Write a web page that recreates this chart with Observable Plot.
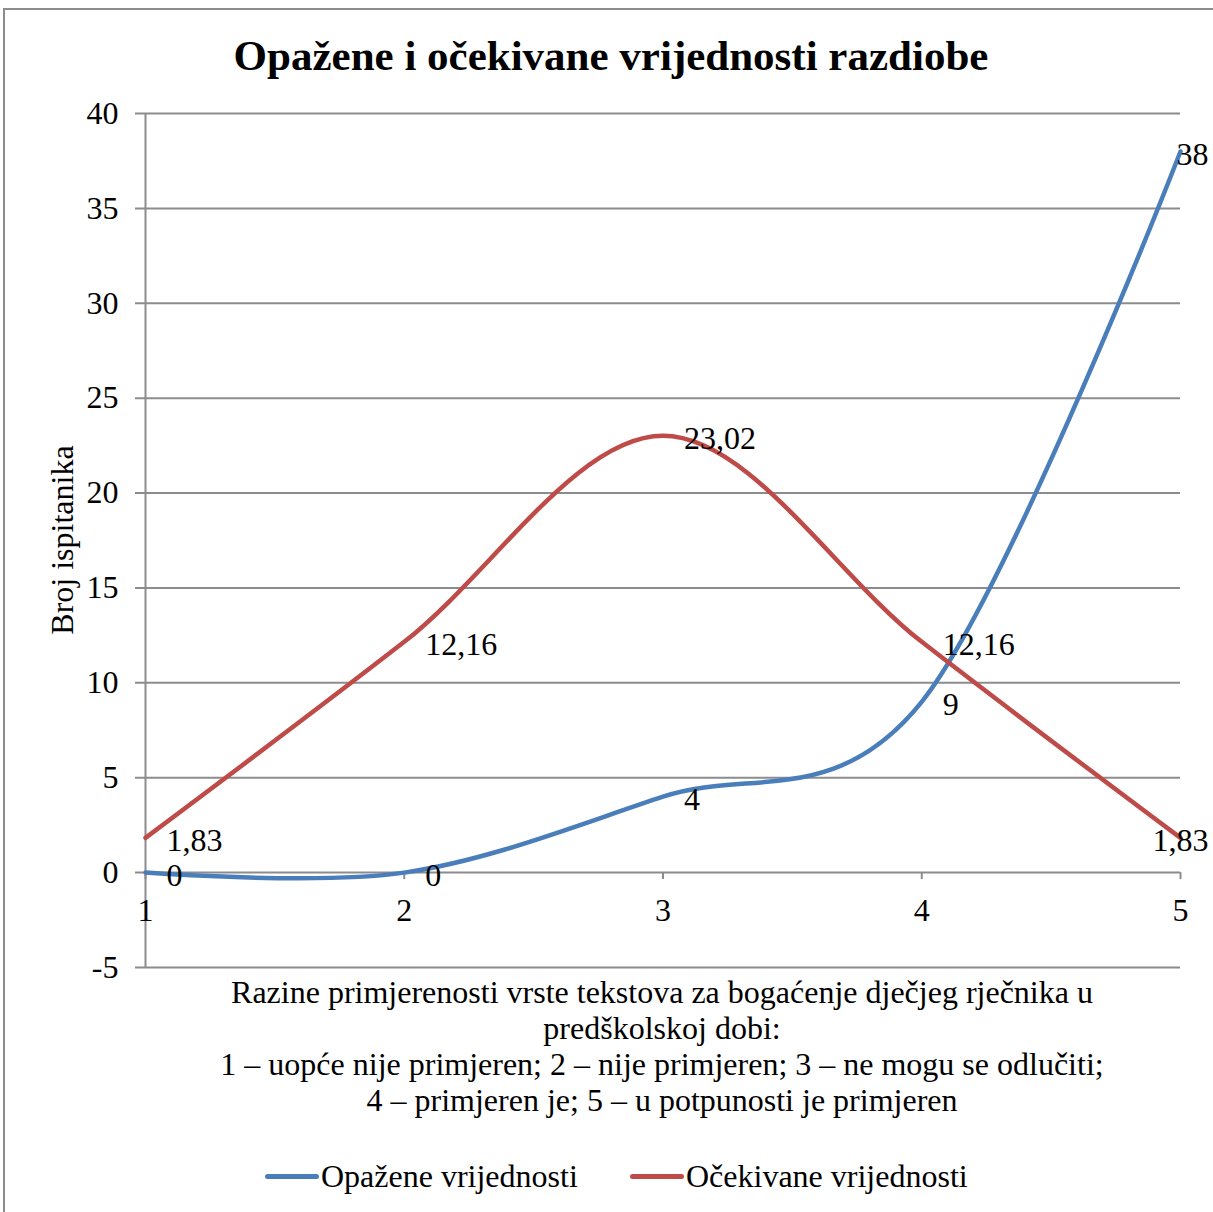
<!DOCTYPE html>
<html>
<head>
<meta charset="utf-8">
<script src="https://cdn.jsdelivr.net/npm/d3@7"></script>
<script src="https://cdn.jsdelivr.net/npm/@observablehq/plot@0.6"></script>
<style>
  html, body { margin: 0; padding: 0; background: #fff; }
  #wrap { position: relative; width: 1213px; height: 1212px; overflow: hidden; font-family: "Liberation Serif", "Times New Roman", serif; color: #000; }
  #frame { position: absolute; left: 3px; top: 8px; width: 1400px; height: 1400px; border: 2px solid #8c8c8c; box-sizing: border-box; }
  #title { position: absolute; left: 0; width: 1222px; top: 31px; text-align: center; font-weight: bold; font-size: 43px; line-height: 50px; }
  #chart { position: absolute; left: 0; top: 90px; }
  #ylabel { position: absolute; left: 62px; top: 540px; transform: translate(-50%, -50%) rotate(-90deg); font-size: 32px; white-space: nowrap; }
  #xlabel { position: absolute; left: 112px; width: 1100px; top: 974px; text-align: center; font-size: 32px; line-height: 36px; }
  #legend { position: absolute; top: 1158px; left: 0; width: 1213px; height: 36px; font-size: 32px; }
  .li { position: absolute; top: 0; display: flex; align-items: center; height: 36px; }
  .sw { width: 54px; height: 5px; border-radius: 3px; margin-right: 2px; }
</style>
</head>
<body>
<div id="wrap">
  <div id="frame"></div>
  <div id="title">Opažene i očekivane vrijednosti razdiobe</div>
  <div id="chart"></div>
  <div id="ylabel">Broj ispitanika</div>
  <div id="xlabel">Razine primjerenosti vrste tekstova za bogaćenje dječjeg rječnika u<br>predškolskoj dobi:<br>1 – uopće nije primjeren; 2 – nije primjeren; 3 – ne mogu se odlučiti;<br>4 – primjeren je; 5 – u potpunosti je primjeren</div>
  <div id="legend"></div>
</div>
<script>
const categories = [1, 2, 3, 4, 5];
const observed = [0, 0, 4, 9, 38];
const expected = [1.83, 12.16, 23.02, 12.16, 1.83];
const seriesNames = ["Opažene vrijednosti", "Očekivane vrijednosti"];
const seriesColors = ["#4a7ebb", "#be4b48"];
const yTicks = [-5, 0, 5, 10, 15, 20, 25, 30, 35, 40];

const fmt = v => String(v).replace(".", ",");
const obsData = categories.map((c, i) => ({x: c, y: observed[i], s: seriesNames[0]}));
const expData = categories.map((c, i) => ({x: c, y: expected[i], s: seriesNames[1]}));
const allData = obsData.concat(expData);
const last = categories[categories.length - 1];

const FONT = 32;
const plot = Plot.plot({
  width: 1213,
  height: 900,
  marginLeft: 145,
  marginRight: 33,
  marginTop: 23,
  marginBottom: 23,
  style: {fontFamily: "'Liberation Serif', 'Times New Roman', serif", fontSize: FONT + "px", color: "#000", background: "transparent", overflow: "visible"},
  x: {domain: [1, 5], axis: null},
  y: {domain: [-5, 40], axis: null},
  marks: [
    Plot.ruleY(yTicks, {stroke: "#8c8c8c", strokeWidth: 2, insetLeft: -10}),
    Plot.ruleX([categories[0]], {y1: -5, y2: 40, stroke: "#8c8c8c", strokeWidth: 2}),
    Plot.ruleX(categories, {x: d => d, y1: 0, y2: 0, insetBottom: -7, stroke: "#8c8c8c", strokeWidth: 2}),
    Plot.text(yTicks, {x: categories[0], y: d => d, text: d => String(d), textAnchor: "end", dx: -27, fontSize: FONT}),
    Plot.text(categories, {x: d => d, y: 0, text: d => String(d), dy: 38, fontSize: FONT}),
    Plot.line(obsData, {x: "x", y: "y", stroke: seriesColors[0], strokeWidth: 4.5, curve: "cardinal"}),
    Plot.line(expData, {x: "x", y: "y", stroke: seriesColors[1], strokeWidth: 4.5, curve: "cardinal"}),
    Plot.text(allData.filter(d => d.x !== last), {x: "x", y: "y", text: d => fmt(d.y), textAnchor: "start", dx: 21, dy: 3, fontSize: FONT}),
    Plot.text(allData.filter(d => d.x === last), {x: "x", y: "y", text: d => fmt(d.y), textAnchor: "end", dx: 28, dy: 3, fontSize: FONT})
  ]
});
document.getElementById("chart").appendChild(plot);

const legend = document.getElementById("legend");
const legendLeft = [265, 630];
seriesNames.forEach((n, i) => {
  const item = document.createElement("div");
  item.className = "li";
  item.style.left = legendLeft[i] + "px";
  item.innerHTML = `<span class="sw" style="background:${seriesColors[i]}"></span><span>${n}</span>`;
  legend.appendChild(item);
});
</script>
</body>
</html>
